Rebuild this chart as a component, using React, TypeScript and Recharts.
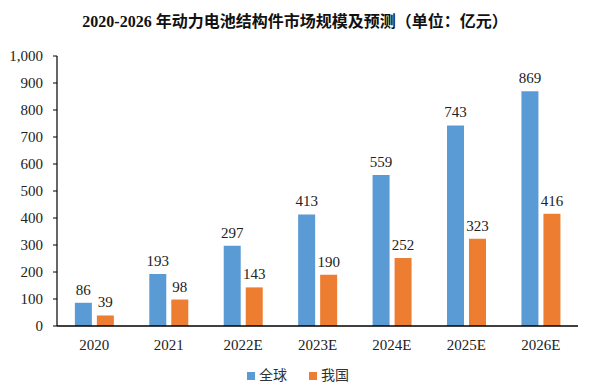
import { BarChart, Bar, XAxis, YAxis, Legend, LabelList } from 'recharts';

const years = ['2020', '2021', '2022E', '2023E', '2024E', '2025E', '2026E'];
const globalValues = [86, 193, 297, 413, 559, 743, 869];
const chinaValues = [39, 98, 143, 190, 252, 323, 416];
const yTicks = [0, 100, 200, 300, 400, 500, 600, 700, 800, 900, 1000];

const SERIF = 'Liberation Serif';

const data = years.map((year, i) => ({
  year,
  global: globalValues[i],
  china: chinaValues[i],
}));

const formatTick = (v: number) => v.toLocaleString('en-US');

function XTick({ x, y, payload }: any) {
  return (
    <text x={x} y={y + 14} textAnchor="middle" fontFamily={SERIF} fontSize={15} fill="#222">
      {payload.value}
    </text>
  );
}

function YTick({ x, y, payload }: any) {
  return (
    <text x={x} y={y + 5} textAnchor="end" fontFamily={SERIF} fontSize={15} fill="#222">
      {formatTick(payload.value)}
    </text>
  );
}

function ValueLabel({ x, y, width, value }: any) {
  return (
    <text x={x + width / 2} y={y - 8} textAnchor="middle" fontFamily={SERIF} fontSize={15} fill="#222">
      {value}
    </text>
  );
}

export default function App() {
  return (
    <div style={{ position: 'absolute', left: 0, top: 0, width: 590, height: 390, background: '#fff' }}>
      <div
        style={{
          position: 'absolute',
          top: 8,
          left: 0,
          width: 590,
          textAlign: 'center',
          fontFamily: '"Liberation Serif", "Noto Sans CJK SC", serif',
          fontWeight: 'bold',
          fontSize: 16,
          color: '#111',
        }}
      >
        2020-2026 年动力电池结构件市场规模及预测（单位：亿元）
      </div>
      <BarChart
        width={590}
        height={390}
        data={data}
        margin={{ top: 56, right: 12, left: 0, bottom: 0 }}
        barCategoryGap="24%"
        barGap={5}
      >
        <XAxis
          dataKey="year"
          tick={<XTick />}
          tickLine={false}
          axisLine={{ stroke: '#000', strokeWidth: 1.5 }}
          height={34}
          tickMargin={4}
        />
        <YAxis
          domain={[0, 1000]}
          ticks={yTicks}
          tick={<YTick />}
          axisLine={{ stroke: '#000', strokeWidth: 1.2 }}
          tickLine={{ stroke: '#000' }}
          tickSize={4}
          tickMargin={10}
          width={57}
          interval={0}
        />
        <Legend
          verticalAlign="bottom"
          align="center"
          iconType="square"
          iconSize={8}
          height={30}
          wrapperStyle={{ fontSize: 14, fontFamily: '"Noto Sans CJK SC", sans-serif', left: 20, bottom: -4 }}
          formatter={(value) => <span style={{ color: '#333', marginRight: 12 }}>{value}</span>}
        />
        <Bar dataKey="global" name="全球" fill="#5B9BD5" isAnimationActive={false}>
          <LabelList dataKey="global" content={<ValueLabel />} />
        </Bar>
        <Bar dataKey="china" name="我国" fill="#ED7D31" isAnimationActive={false}>
          <LabelList dataKey="china" content={<ValueLabel />} />
        </Bar>
      </BarChart>
    </div>
  );
}
